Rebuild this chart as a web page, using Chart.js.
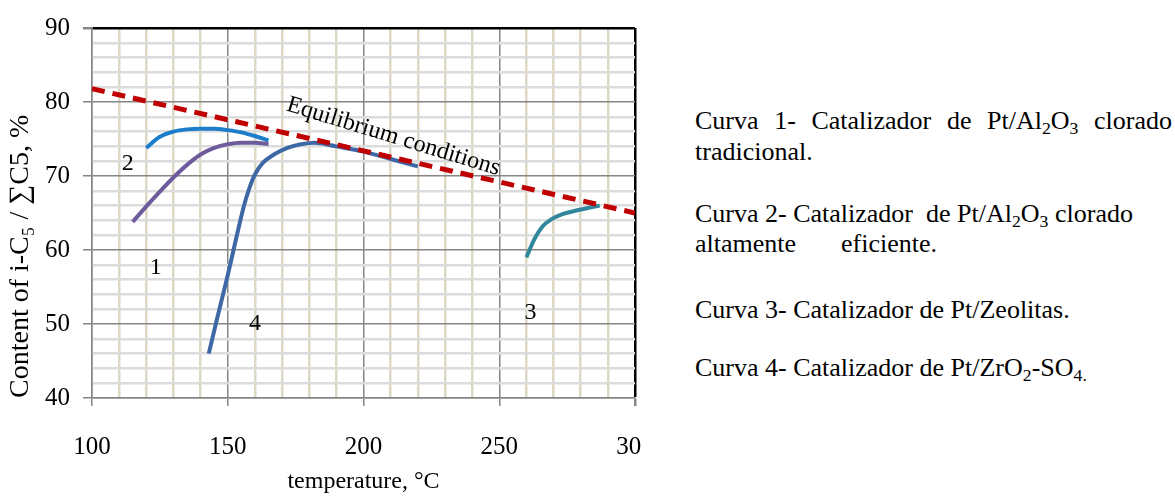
<!DOCTYPE html>
<html>
<head>
<meta charset="utf-8">
<script src="https://cdn.jsdelivr.net/npm/chart.js@4/dist/chart.umd.min.js"></script>
<style>
  body { margin: 0; background: #fff; width: 1175px; height: 499px; overflow: hidden; position: relative; font-family: "Liberation Serif", serif; color: #000; }
  #wrap { position: absolute; left: 0; top: 0; width: 641px; height: 499px; }
  .note { position: absolute; left: 695px; font-size: 26px; line-height: 30px; white-space: nowrap; }
  .just { text-align: justify; text-align-last: justify; white-space: normal; }
  sub { font-size: 0.68em; vertical-align: -0.28em; line-height: 0; }
</style>
</head>
<body>
<div id="wrap"><canvas id="chart"></canvas></div>

<div class="note just" style="top:106px;width:477px;">Curva 1- Catalizador de Pt/Al<sub>2</sub>O<sub>3</sub> clorado</div>
<div class="note" style="top:137px;">tradicional.</div>
<div class="note" style="top:199px;">Curva 2- Catalizador&nbsp; de Pt/Al<sub>2</sub>O<sub>3</sub> clorado</div>
<div class="note just" style="top:229px;width:242px;">altamente eficiente.</div>
<div class="note" style="top:295px;">Curva 3- Catalizador de Pt/Zeolitas.</div>
<div class="note" style="top:353px;">Curva 4- Catalizador de Pt/ZrO<sub>2</sub>-SO<sub>4.</sub></div>

<script>
'use strict';

// equilibrium conditions (red dashed line)
var eqTemp = [100, 150, 200, 250, 300];
var eqVal  = [81.8, 77.6, 73.4, 69.2, 65.0];

// curve 1 - Pt/Al2O3 clorado tradicional
var c1Temp = [115, 120, 125, 130, 135, 140, 145, 150, 155, 160, 165];
var c1Val  = [63.8, 65.9, 67.9, 69.8, 71.5, 72.9, 73.8, 74.3, 74.5, 74.5, 74.3];

// curve 2 - Pt/Al2O3 clorado altamente eficiente
var c2Temp = [120, 125, 130, 135, 140, 145, 150, 155, 160, 165];
var c2Val  = [73.8, 75.3, 76.0, 76.3, 76.4, 76.4, 76.2, 75.9, 75.4, 74.8];

// curve 3 - Pt/Zeolitas
var c3Temp = [260, 263, 266, 269, 273, 278, 283, 287];
var c3Val  = [59.0, 61.5, 63.2, 64.1, 64.8, 65.3, 65.7, 66.0];

// curve 4 - Pt/ZrO2-SO4
var c4Temp = [143, 146, 148, 150, 152, 154, 156, 158, 160, 163, 167, 172, 177, 182, 190, 200, 210, 220];
var c4Val  = [46.0, 50.6, 53.6, 56.6, 59.8, 63.0, 66.0, 68.4, 70.2, 71.8, 72.9, 73.8, 74.3, 74.5, 74.0, 73.3, 72.3, 71.3];

// labels written on the plot, placed in data units
var curveLabels = [
  { text: '1', x: 123.5, y: 57.6 },
  { text: '2', x: 113.2, y: 71.6 },
  { text: '3', x: 261.5, y: 51.5 },
  { text: '4', x: 160.0, y: 50.0 }
];
var eqLabel = { text: 'Equilibrium conditions', x: 211.0, y: 75.3, angle: 17 };

function pts(xs, ys) {
  return xs.map(function (x, i) { return { x: x, y: ys[i] }; });
}

var serif = '"Liberation Serif", "Times New Roman", serif';

var labelPlugin = {
  id: 'curveLabels',
  afterDatasetsDraw: function (chart) {
    var ctx = chart.ctx, xs = chart.scales.x, ys = chart.scales.y;
    ctx.save();
    ctx.fillStyle = '#000';
    ctx.textAlign = 'center';
    ctx.textBaseline = 'middle';
    ctx.font = '24px ' + serif;
    curveLabels.forEach(function (l) {
      ctx.fillText(l.text, xs.getPixelForValue(l.x), ys.getPixelForValue(l.y));
    });
    ctx.translate(xs.getPixelForValue(eqLabel.x), ys.getPixelForValue(eqLabel.y));
    ctx.rotate(eqLabel.angle * Math.PI / 180);
    ctx.font = '24px ' + serif;
    ctx.fillText(eqLabel.text, 0, 0);
    ctx.restore();
  }
};

var lineStyle = { borderWidth: 4, pointRadius: 0, fill: false, cubicInterpolationMode: 'monotone' };

new Chart(document.getElementById('chart'), {
  type: 'line',
  data: {
    datasets: [
      Object.assign({ label: 'Equilibrium conditions', data: pts(eqTemp, eqVal), borderColor: '#c00000', borderDash: [13, 8] }, lineStyle, { borderWidth: 5 }),
      Object.assign({ label: '1', data: pts(c1Temp, c1Val), borderColor: '#6e5b9c' }, lineStyle),
      Object.assign({ label: '2', data: pts(c2Temp, c2Val), borderColor: '#1c7ecb' }, lineStyle),
      Object.assign({ label: '3', data: pts(c3Temp, c3Val), borderColor: '#33879c' }, lineStyle),
      Object.assign({ label: '4', data: pts(c4Temp, c4Val), borderColor: '#3e68a5' }, lineStyle)
    ]
  },
  options: {
    responsive: true,
    maintainAspectRatio: false,
    animation: false,
    layout: { padding: { top: 20, right: 6, left: 0, bottom: 0 } },
    plugins: { legend: { display: false }, tooltip: { enabled: false } },
    scales: {
      x: {
        type: 'linear', min: 100, max: 300,
        afterFit: function (s) { s.height = 101; s.paddingRight = 0; s.paddingLeft = 0; },
        ticks: {
          stepSize: 10, autoSkip: false, maxRotation: 0, padding: 26, color: '#000',
          font: { family: serif, size: 25 },
          callback: function (v) { return v % 50 === 0 ? String(v) : ''; }
        },
        grid: {
          tickLength: 8,
          color: function (c) { var v = c.tick.value; return v === 300 ? '#000' : (v % 50 === 0 ? '#868686' : '#ddd9c4'); },
          lineWidth: function (c) { var v = c.tick.value; return v === 300 ? 2.5 : (v % 50 === 0 ? 1.5 : 2.5); },
          tickColor: function (c) { return c.tick.value % 50 === 0 ? '#868686' : 'rgba(0,0,0,0)'; }
        },
        border: { color: '#868686', width: 1.5 },
        title: { display: true, text: 'temperature, °C', color: '#000', font: { family: serif, size: 24 }, padding: { top: 0, bottom: 3 } }
      },
      y: {
        min: 40, max: 90,
        afterFit: function (s) { s.width = 92; },
        ticks: {
          stepSize: 2, autoSkip: false, padding: 13, color: '#000',
          font: { family: serif, size: 25 },
          callback: function (v) { return v % 10 === 0 ? String(v) : ''; }
        },
        grid: {
          tickLength: 9,
          color: function (c) { var v = c.tick.value; return v === 90 ? '#000' : (v % 10 === 0 ? '#868686' : '#dcdcdc'); },
          lineWidth: function (c) { var v = c.tick.value; return v === 90 ? 2.5 : (v % 10 === 0 ? 1.5 : 2.5); },
          tickColor: function (c) { return c.tick.value % 10 === 0 ? '#868686' : 'rgba(0,0,0,0)'; }
        },
        border: { color: '#868686', width: 1.5 },
        title: { display: true, text: 'Content of i-C₅ / ∑C5, %', align: 'start', color: '#000', font: { family: serif, size: 28 }, padding: { top: 4, bottom: 0 } }
      }
    }
  },
  plugins: [labelPlugin]
});
</script>
</body>
</html>
